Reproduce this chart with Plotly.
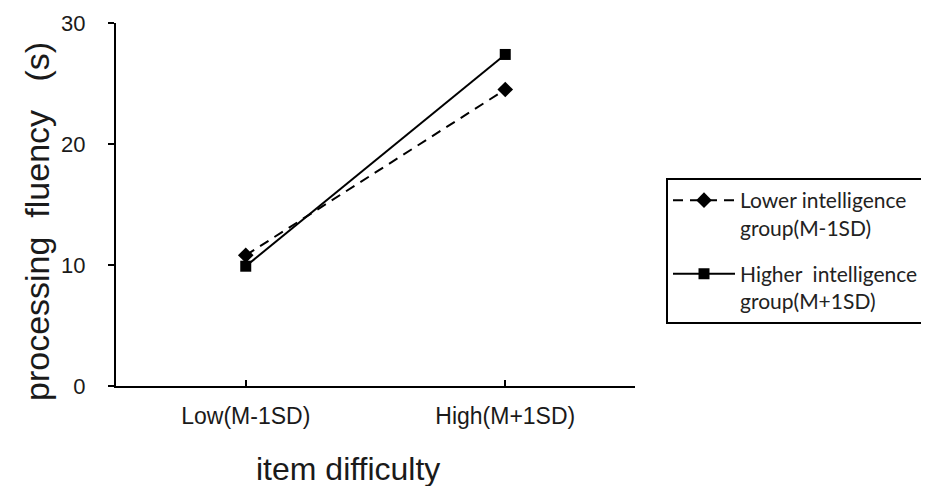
import plotly.graph_objects as go

categories = ["Low(M-1SD)", "High(M+1SD)"]
lower_vals = [10.8, 24.5]
higher_vals = [9.9, 27.4]
series_names = ["Lower intelligence<br>group(M-1SD)", "Higher\u00a0 intelligence<br>group(M+1SD)"]
y_ticks = [0, 10, 20, 30]

fig = go.Figure()
fig.add_trace(go.Scatter(
    x=categories, y=lower_vals, name=series_names[0], mode="lines+markers",
    legendgroup="a",
    line=dict(color="black", width=2, dash="10px,7px"),
    marker=dict(symbol="diamond", size=12, color="black"),
))
fig.add_trace(go.Scatter(
    x=categories, y=higher_vals, name=series_names[1], mode="lines+markers",
    legendgroup="b",
    line=dict(color="black", width=2),
    marker=dict(symbol="square", size=11, color="black"),
))

# page has an 8px body margin, so the figure is drawn 8px in from the top-left
OFF = 8
W, H = 929 - OFF, 486 - OFF
L, T = 116 - OFF, 23 - OFF
PW, PH = 519, 363
R = W - L - PW
B = H - T - PH


def px_x(px):
    return (px - OFF - L) / PW


def px_y(py):
    return (T + PH - (py - OFF)) / PH


fig.update_layout(
    width=W, height=H,
    margin=dict(l=L, r=R, t=T, b=B, autoexpand=False),
    paper_bgcolor="white", plot_bgcolor="white",
    font=dict(family="Liberation Sans, Arial, sans-serif", color="black"),
    showlegend=True,
    legend=dict(
        x=px_x(666), xanchor="left",
        y=px_y(178), yanchor="top",
        bordercolor="black", borderwidth=2, bgcolor="white",
        font=dict(family="Lato, sans-serif", size=21, color="#222"),
        itemwidth=62, valign="top", tracegroupgap=16,
    ),
    xaxis=dict(
        type="category", range=[-0.5, 1.5],
        showline=True, linecolor="black", linewidth=2,
        ticks="inside", ticklen=6, tickwidth=2, tickcolor="black",
        showgrid=False, zeroline=False,
        tickfont=dict(size=23, color="#1a1a1a"), ticklabelstandoff=8,
    ),
    yaxis=dict(
        range=[0, 30], tickvals=y_ticks,
        showline=True, linecolor="black", linewidth=2,
        ticks="outside", ticklen=6, tickwidth=2, tickcolor="black",
        showgrid=False, zeroline=False,
        tickfont=dict(size=22, color="#1a1a1a"), ticklabelstandoff=18,
    ),
    annotations=[
        dict(text="item difficulty", xref="paper", yref="paper",
             x=px_x(348), y=px_y(469),
             xanchor="center", yanchor="middle", showarrow=False,
             font=dict(size=32, color="#1a1a1a")),
        dict(text="processing\u00a0 fluency\u00a0 \u00a0(s)", xref="paper", yref="paper",
             x=px_x(37), y=px_y(222),
             xanchor="center", yanchor="middle", showarrow=False, textangle=-90,
             font=dict(size=34, color="#1a1a1a")),
    ],
)

fig.write_html("out.html")
